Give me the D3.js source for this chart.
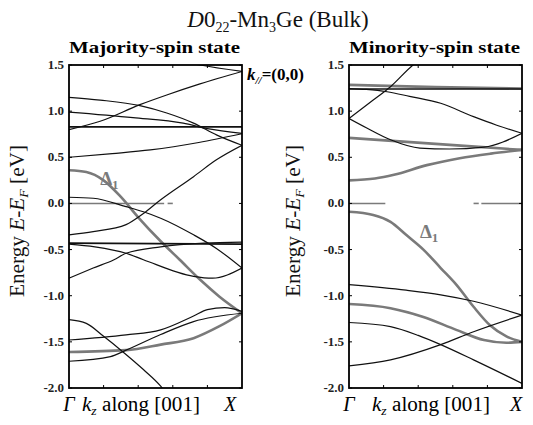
<!DOCTYPE html>
<html>
<head>
<meta charset="utf-8">
<script src="https://cdn.jsdelivr.net/npm/d3@7"></script>
<style>
html,body{margin:0;padding:0;background:#fff;}
svg{display:block;font-family:"Liberation Serif","DejaVu Serif",serif;}
</style>
</head>
<body>
<svg id="chart" width="533" height="425"></svg>
<script>
// ---------- DATA ----------
const yTicks = [1.5, 1.0, 0.5, 0.0, -0.5, -1.0, -1.5, -2.0];
const yTickLabels = ["1.5", "1.0", "0.5", "0.0", "-0.5", "-1.0", "-1.5", "-2.0"];
const kTicks = [0.2, 0.4, 0.6, 0.8];

// Majority-spin bands: [k (0=Γ..1=X), E (eV)]
const majA1 = [[0,0.80],[0.18,0.89],[0.41,1.07],[0.565,1.175],[0.757,1.295],[1,1.43]];
const majA2 = [[0.6,1.56],[0.757,1.5],[1,1.43]];
const majB  = [[0,1.15],[0.18,1.12],[0.41,1.06],[0.565,0.98],[0.72,0.87],[0.855,0.74],[1,0.63]];
const majC  = [[0,0.99],[0.37,0.93],[0.66,0.87],[0.8,0.81],[1,0.76]];
const majFlatHi = [[0,0.83],[1,0.83]];
const majD  = [[0,0.50],[0.25,0.54],[0.47,0.58],[0.75,0.66],[1,0.755]];
const majE  = [[0,-0.34],[0.14,-0.305],[0.33,-0.23],[0.43,-0.11],[0.53,0.04],[0.72,0.29],[0.85,0.47],[1,0.63]];
const majF  = [[0,0.067],[0.14,0.056],[0.33,-0.035],[0.43,-0.09],[0.53,-0.16],[0.72,-0.34],[0.85,-0.485],[1,-0.70]];
const majFlatLo = [[0,-0.43],[1,-0.44]];
const majG  = [[0,-0.44],[0.15,-0.47],[0.33,-0.54],[0.43,-0.61],[0.72,-0.79],[0.83,-0.81],[1,-0.70]];
const majH  = [[0,-0.81],[0.14,-0.70],[0.26,-0.61],[0.33,-0.54],[0.53,-0.47],[0.78,-0.43],[1,-0.42]];
const majI  = [[0,-1.26],[0.1,-1.30],[0.2,-1.44],[0.3,-1.59],[0.43,-1.80],[0.53,-1.98],[0.56,-2.05]];
const majJ  = [[0,-1.48],[0.33,-1.425],[0.53,-1.37],[0.72,-1.22],[0.8,-1.15],[0.9,-1.13],[1,-1.17]];
const majK  = [[0,-1.71],[0.24,-1.66],[0.33,-1.59],[0.53,-1.42],[0.72,-1.28],[1,-1.19]];
const majDelta1Up = [[0,0.36],[0.1,0.34],[0.2,0.25],[0.3,0.07],[0.4,-0.15],[0.53,-0.41],[0.64,-0.61],[0.76,-0.83],[0.87,-1.01],[1,-1.19]];
const majDelta1Lo = [[0,-1.61],[0.33,-1.59],[0.53,-1.53],[0.72,-1.46],[0.87,-1.33],[1,-1.19]];

// Minority-spin bands
const minR1 = [[0,0.92],[0.14,1.12],[0.24,1.265],[0.37,1.5],[0.42,1.57]];
const minR2 = [[0,0.92],[0.1,0.82],[0.24,0.69],[0.41,0.60],[0.58,0.59],[0.78,0.61],[1,0.76]];
const minR3 = [[0,1.245],[0.1,1.235],[0.22,1.21],[0.35,1.16],[0.53,1.085],[0.72,0.94],[0.85,0.85],[1,0.76]];
const minFlat = [[0,1.24],[1,1.24]];
const minR8  = [[0,-0.88],[0.33,-0.94],[0.53,-0.99],[0.72,-1.06],[1,-1.21]];
const minR10 = [[0,-1.29],[0.24,-1.335],[0.4,-1.43],[0.53,-1.53],[0.72,-1.695],[1,-1.95]];
const minR11 = [[0,-1.76],[0.24,-1.695],[0.53,-1.53],[0.72,-1.39],[1,-1.21]];
const minG5  = [[0,1.285],[0.5,1.26],[1,1.245]];
const minG6  = [[0,0.71],[0.5,0.645],[1,0.58]];
const minG7  = [[0,0.25],[0.15,0.27],[0.26,0.31],[0.45,0.415],[0.64,0.49],[0.82,0.54],[1,0.58]];
const minDelta1 = [[0,-0.09],[0.14,-0.125],[0.24,-0.2],[0.33,-0.34],[0.43,-0.5],[0.53,-0.7],[0.62,-0.88],[0.72,-1.12],[0.815,-1.32],[0.91,-1.44],[1,-1.5]];
const minG9  = [[0,-1.09],[0.24,-1.135],[0.43,-1.23],[0.62,-1.37],[0.78,-1.48],[0.91,-1.51],[1,-1.5]];

// Fermi level segments [k start, k end]
const majFermi = [[0,0.55],[0.57,0.60]];
const minFermi = [[0,0.21],[0.72,0.75],[0.765,1]];

const majorityBlack = [majA1, majA2, majB, majC, majFlatHi, majD, majE, majF, majFlatLo, majG, majH, majI, majJ, majK];
const majorityGray = [majDelta1Up, majDelta1Lo];
const minorityBlack = [minR1, minR2, minR3, minFlat, minR8, minR10, minR11];
const minorityGray = [minG5, minG6, minG7, minDelta1, minG9];

// ---------- DRAW ----------
const svg = d3.select("#chart");
const yTop = 65, yBot = 388;
const y = d3.scaleLinear().domain([-2, 1.5]).range([yBot, yTop]);

const grayCol = "#7a7a7a";

function panel(id, x0, x1, black, gray, fermi, title, delta, ylabX, kStart) {
  const x = d3.scaleLinear().domain([0, 1]).range([x0, x1]);
  const g = svg.append("g");
  svg.append("defs").append("clipPath").attr("id", "clip" + id)
    .append("rect").attr("x", x0).attr("y", yTop).attr("width", x1 - x0).attr("height", yBot - yTop);
  const line = d3.line().x(d => x(d[0])).y(d => y(d[1])).curve(d3.curveMonotoneX);
  const plot = g.append("g").attr("clip-path", `url(#clip${id})`);

  // Fermi level
  plot.selectAll("line.ef").data(fermi).join("line")
    .attr("x1", d => x(d[0])).attr("x2", d => x(d[1]))
    .attr("y1", y(0)).attr("y2", y(0))
    .attr("stroke", grayCol).attr("stroke-width", 1.6);

  plot.selectAll("path.gray").data(gray).join("path")
    .attr("d", line).attr("fill", "none").attr("stroke", grayCol).attr("stroke-width", 2.6);
  plot.selectAll("path.black").data(black).join("path")
    .attr("d", d => line(d)).attr("fill", "none").attr("stroke", "#111")
    .attr("stroke-width", d => (d.length === 2 ? 1.7 : 1.2));

  // frame
  g.append("rect").attr("x", x0).attr("y", yTop).attr("width", x1 - x0).attr("height", yBot - yTop)
    .attr("fill", "none").attr("stroke", "#000").attr("stroke-width", 1.8);

  // inside ticks
  g.selectAll("line.yt").data(yTicks).join("line")
    .attr("x1", x0).attr("x2", x0 + 3).attr("y1", d => y(d)).attr("y2", d => y(d))
    .attr("stroke", "#000").attr("stroke-width", 1);
  g.selectAll("line.yt2").data(yTicks).join("line")
    .attr("x1", x1).attr("x2", x1 - 3).attr("y1", d => y(d)).attr("y2", d => y(d))
    .attr("stroke", "#000").attr("stroke-width", 1);
  g.selectAll("line.kt").data(kTicks).join("line")
    .attr("x1", d => x(d)).attr("x2", d => x(d)).attr("y1", yTop).attr("y2", yTop + 3)
    .attr("stroke", "#000").attr("stroke-width", 1);
  g.selectAll("line.kb").data(kTicks).join("line")
    .attr("x1", d => x(d)).attr("x2", d => x(d)).attr("y1", yBot).attr("y2", yBot - 3)
    .attr("stroke", "#000").attr("stroke-width", 1);

  // tick labels
  g.selectAll("text.yl").data(yTicks).join("text")
    .attr("x", x0 - 5).attr("y", d => y(d) + 4)
    .attr("text-anchor", "end").attr("font-size", 13).attr("font-weight", "bold")
    .attr("fill", "#222")
    .text((d, i) => yTickLabels[i]);

  // panel title
  g.append("text").attr("x", (x0 + x1) / 2 - 1).attr("y", 53)
    .attr("text-anchor", "middle").attr("font-size", 17).attr("font-weight", "bold")
    .attr("textLength", x1 - x0 - 2).attr("lengthAdjust", "spacingAndGlyphs")
    .text(title);

  // Δ1 label
  const dl = g.append("text").attr("x", x(delta[0])).attr("y", y(delta[1]))
    .attr("font-size", 19).attr("font-weight", "bold").attr("fill", grayCol);
  dl.append("tspan").text("Δ");
  dl.append("tspan").attr("font-size", 13).attr("dy", 4).text("1");

  // y label
  const yl = g.append("text")
    .attr("transform", `translate(${ylabX},221) rotate(-90)`)
    .attr("text-anchor", "middle").attr("font-size", 20).attr("fill", "#111")
    .attr("textLength", 152).attr("lengthAdjust", "spacingAndGlyphs");
  yl.append("tspan").text("Energy ");
  yl.append("tspan").attr("font-style", "italic").text("E");
  yl.append("tspan").text("-");
  yl.append("tspan").attr("font-style", "italic").text("E");
  yl.append("tspan").attr("font-style", "italic").attr("font-size", 13).attr("dy", 4).text("F");
  yl.append("tspan").attr("dy", -4).text(" [eV]");

  // x labels
  g.append("text").attr("x", x(0)).attr("y", 411).attr("text-anchor", "middle")
    .attr("font-size", 20).attr("font-style", "italic").text("Γ");
  g.append("text").attr("x", x1 - (id === "L" ? 12 : 6)).attr("y", 411).attr("text-anchor", "middle")
    .attr("font-size", 20).attr("font-style", "italic").text("X");
  const kl = g.append("text").attr("x", kStart).attr("y", 411)
    .attr("font-size", 20).attr("textLength", 118).attr("lengthAdjust", "spacingAndGlyphs");
  kl.append("tspan").attr("font-style", "italic").text("k");
  kl.append("tspan").attr("font-style", "italic").attr("font-size", 13).attr("dy", 4).text("z");
  kl.append("tspan").attr("dy", -4).text(" along [001]");
}

panel("L", 69, 242, majorityBlack, majorityGray, majFermi, "Majority-spin state", [0.18, 0.2], 24, 82);
panel("R", 349, 522, minorityBlack, minorityGray, minFermi, "Minority-spin state", [0.41, -0.38], 300, 372);

// Title
const t = svg.append("text").attr("x", 278).attr("y", 27).attr("text-anchor", "middle")
  .attr("font-size", 23).attr("fill", "#111");
t.append("tspan").attr("font-style", "italic").text("D");
t.append("tspan").text("0");
t.append("tspan").attr("font-size", 14).attr("dy", 5).text("22");
t.append("tspan").attr("dy", -5).text("-Mn");
t.append("tspan").attr("font-size", 14).attr("dy", 5).text("3");
t.append("tspan").attr("dy", -5).text("Ge (Bulk)");

// k// label
const kp = svg.append("text").attr("x", 247).attr("y", 80).attr("font-size", 17).attr("font-weight", "bold");
kp.append("tspan").attr("font-style", "italic").text("k");
kp.append("tspan").attr("font-style", "italic").attr("font-size", 11).attr("dy", 4).text("//");
kp.append("tspan").attr("dy", -4).text("=(0,0)");
</script>
</body>
</html>
